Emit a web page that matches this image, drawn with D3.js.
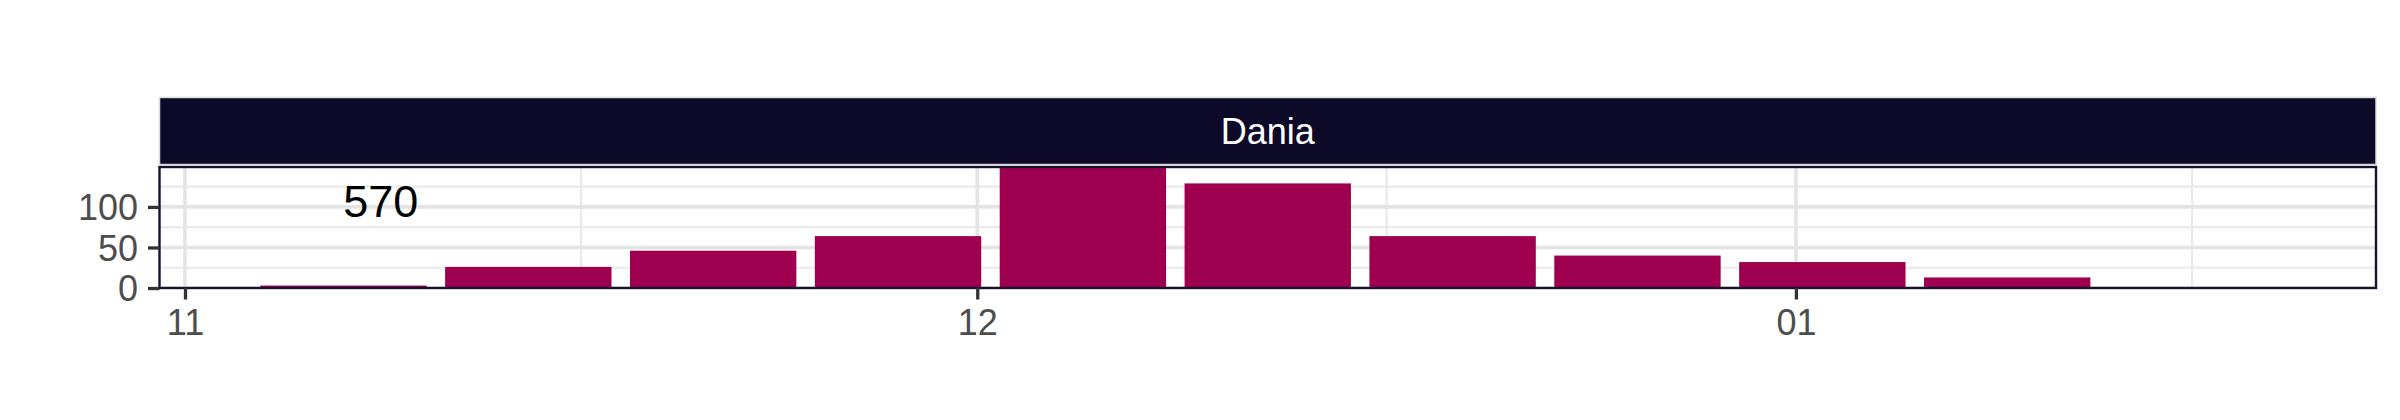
<!DOCTYPE html>
<html>
<head>
<meta charset="utf-8">
<script src="https://cdn.jsdelivr.net/npm/d3@7"></script>
<style>
  html, body { margin: 0; padding: 0; background: #ffffff; }
  svg { display: block; }
</style>
</head>
<body>
<svg id="chart" width="2400" height="420"></svg>
<script>
// ---- data ----
const weekDates = ["2022-11-07", "2022-11-14", "2022-11-21", "2022-11-28", "2022-12-05",
                   "2022-12-12", "2022-12-19", "2022-12-26", "2023-01-02", "2023-01-09", "2023-01-16"];
const weekCounts = [3, 26, 46, 64, 152, 129, 64, 40, 32, 13, 1];
const xTickDates = ["2022-11-01", "2022-12-01", "2023-01-01"];
const xTickLabels = ["11", "12", "01"];
const xMinorDates = ["2022-11-16T00:00:00Z", "2022-12-16T12:00:00Z", "2023-01-16T00:00:00Z"];
const yTicks = [0, 50, 100];
const yTickLabels = ["0", "50", "100"];
const yMinor = [25, 75, 125];
const facetLabel = "Dania";
const totalLabel = "570";
const totalLabelPos = { date: "2022-11-08T10:00:00Z", value: 107 };
const yMax = 148;

// ---- layout ----
const DAY = 86400000;
const panel = { left: 159.5, right: 2376, top: 168, bottom: 288 };
const strip = { top: 97.5, bottom: 164.5 };
const barWidthDays = 7 * 0.9;

const parse = s => new Date(s.length === 10 ? s + "T00:00:00Z" : s);
const data = weekDates.map((d, i) => ({ date: parse(d), value: weekCounts[i] }));

const minX = d3.min(data, d => +d.date) - barWidthDays / 2 * DAY;
const maxX = d3.max(data, d => +d.date) + barWidthDays / 2 * DAY;
const padX = (maxX - minX) * 0.05;

const x = d3.scaleUtc()
  .domain([new Date(minX - padX), new Date(maxX + padX)])
  .range([panel.left, panel.right]);
const y = d3.scaleLinear()
  .domain([0, yMax])
  .range([panel.bottom, panel.top]);

const svg = d3.select("#chart");
const font = "'Liberation Sans', Arial, Helvetica, sans-serif";

// clip
svg.append("defs").append("clipPath").attr("id", "panelClip")
  .append("rect")
  .attr("x", panel.left).attr("y", panel.top)
  .attr("width", panel.right - panel.left).attr("height", panel.bottom - panel.top);

// panel background
svg.append("rect")
  .attr("x", panel.left).attr("y", panel.top)
  .attr("width", panel.right - panel.left).attr("height", panel.bottom - panel.top)
  .attr("fill", "#ffffff");

const grid = svg.append("g").attr("clip-path", "url(#panelClip)");
// minor grid
grid.selectAll(".ymin").data(yMinor).join("line")
  .attr("x1", panel.left).attr("x2", panel.right)
  .attr("y1", d => y(d)).attr("y2", d => y(d))
  .attr("stroke", "#EAEAEA").attr("stroke-width", 2.2);
grid.selectAll(".xmin").data(xMinorDates.map(parse)).join("line")
  .attr("y1", panel.top).attr("y2", panel.bottom)
  .attr("x1", d => x(d)).attr("x2", d => x(d))
  .attr("stroke", "#EAEAEA").attr("stroke-width", 2.2);
// major grid
grid.selectAll(".ymaj").data(yTicks).join("line")
  .attr("x1", panel.left).attr("x2", panel.right)
  .attr("y1", d => y(d)).attr("y2", d => y(d))
  .attr("stroke", "#E4E4E4").attr("stroke-width", 3.6);
grid.selectAll(".xmaj").data(xTickDates.map(parse)).join("line")
  .attr("y1", panel.top).attr("y2", panel.bottom)
  .attr("x1", d => x(d)).attr("x2", d => x(d))
  .attr("stroke", "#E4E4E4").attr("stroke-width", 3.6);

// bars
svg.append("g").attr("clip-path", "url(#panelClip)")
  .selectAll("rect").data(data).join("rect")
  .attr("x", d => x(new Date(+d.date - barWidthDays / 2 * DAY)))
  .attr("width", d => x(new Date(+d.date + barWidthDays / 2 * DAY)) - x(new Date(+d.date - barWidthDays / 2 * DAY)))
  .attr("y", d => y(d.value))
  .attr("height", d => y(0) - y(d.value))
  .attr("fill", "#9E004F");

// total label
svg.append("text")
  .attr("x", x(parse(totalLabelPos.date)))
  .attr("y", y(totalLabelPos.value))
  .attr("dy", "0.36em")
  .attr("text-anchor", "middle")
  .attr("font-family", font)
  .attr("font-size", 45)
  .attr("fill", "#000000")
  .text(totalLabel);

// panel border
svg.append("rect")
  .attr("x", panel.left).attr("y", panel.top - 1)
  .attr("width", panel.right - panel.left).attr("height", panel.bottom - panel.top + 1)
  .attr("fill", "none")
  .attr("stroke", "#17112F").attr("stroke-width", 2.4);

// strip
svg.append("rect")
  .attr("x", panel.left).attr("y", strip.top)
  .attr("width", panel.right - panel.left).attr("height", strip.bottom - strip.top)
  .attr("fill", "#0D0A29")
  .attr("stroke", "#DADADA").attr("stroke-width", 1.5);
svg.append("text")
  .attr("x", (panel.left + panel.right) / 2)
  .attr("y", (strip.top + strip.bottom) / 2)
  .attr("dy", "0.36em")
  .attr("text-anchor", "middle")
  .attr("font-family", font)
  .attr("font-size", 36)
  .attr("fill", "#FFFFFF")
  .text(facetLabel);

// axes
const yAxis = d3.axisLeft(y)
  .tickValues(yTicks)
  .tickFormat((d, i) => yTickLabels[i])
  .tickSize(11.5).tickPadding(10);
const gy = svg.append("g").attr("transform", `translate(${panel.left},0)`).call(yAxis);

const xAxis = d3.axisBottom(x)
  .tickValues(xTickDates.map(parse))
  .tickFormat((d, i) => xTickLabels[i])
  .tickSize(11.5).tickPadding(10);
const gx = svg.append("g").attr("transform", `translate(0,${panel.bottom})`).call(xAxis);

[gy, gx].forEach(g => {
  g.select(".domain").remove();
  g.selectAll(".tick line").attr("stroke", "#333333").attr("stroke-width", 3.3);
  g.selectAll(".tick text")
    .attr("font-family", font)
    .attr("font-size", 36)
    .attr("fill", "#4D4D4D");
});
gy.selectAll(".tick text").attr("dy", "0.36em");
gx.selectAll(".tick text").attr("dy", "0.71em");
</script>
</body>
</html>
